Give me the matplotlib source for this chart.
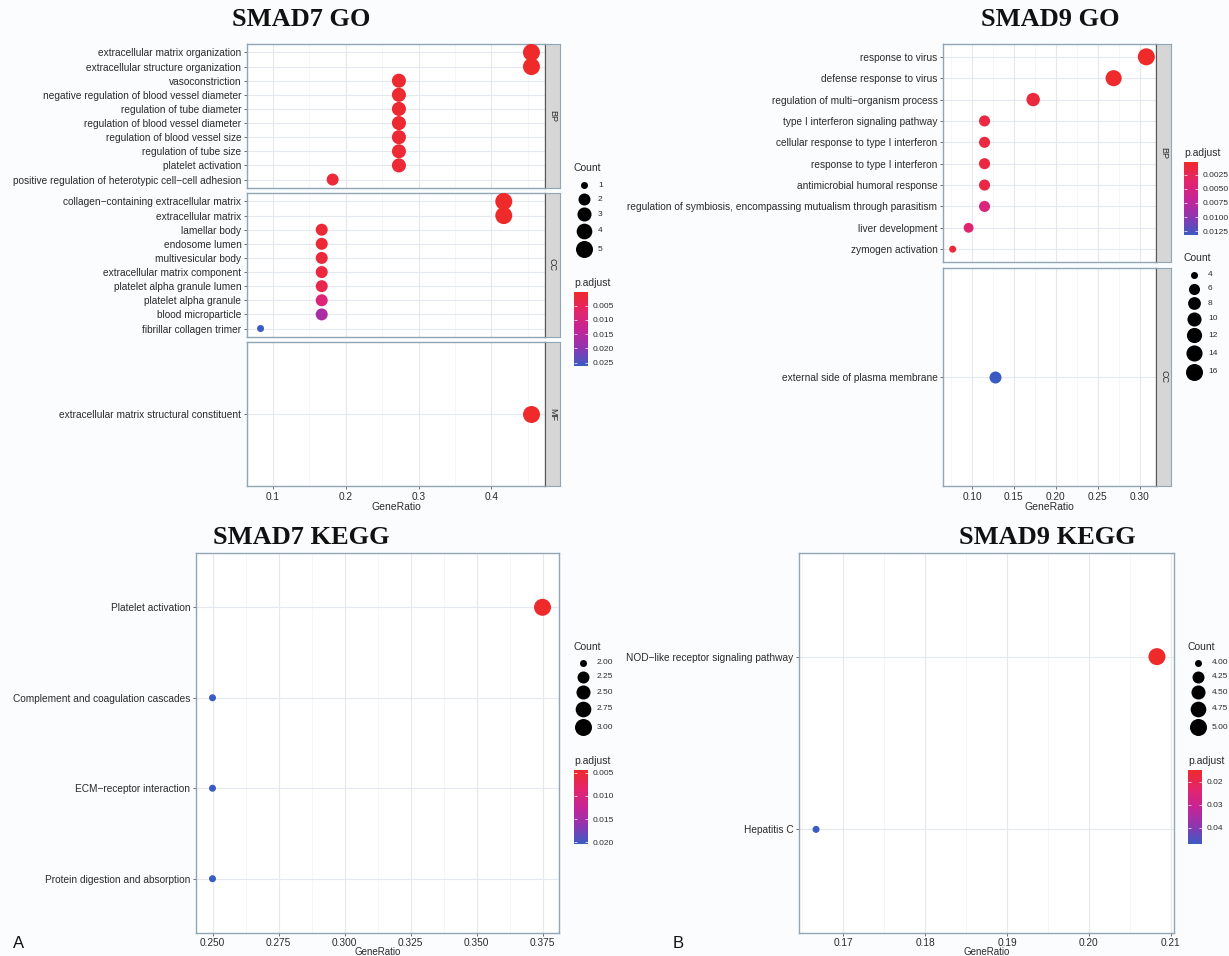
import numpy as np
import matplotlib
matplotlib.use("Agg")
import matplotlib.pyplot as plt
from matplotlib.colors import LinearSegmentedColormap, Normalize
from matplotlib.cm import ScalarMappable

W, H = 1229, 956
plt.rcParams['font.family'] = ['Liberation Sans', 'DejaVu Sans']

# ---- SMAD7 GO ----
s7_bp_terms = ["extracellular matrix organization", "extracellular structure organization",
               "vasoconstriction", "negative regulation of blood vessel diameter",
               "regulation of tube diameter", "regulation of blood vessel diameter",
               "regulation of blood vessel size", "regulation of tube size",
               "platelet activation", "positive regulation of heterotypic cell\u2212cell adhesion"]
s7_bp_ratio = [0.455, 0.455, 0.273, 0.273, 0.273, 0.273, 0.273, 0.273, 0.273, 0.182]
s7_bp_count = [5, 5, 3, 3, 3, 3, 3, 3, 3, 2]
s7_bp_padj = [0.0002, 0.0002, 0.0009, 0.0009, 0.0011, 0.0011, 0.0012, 0.0013, 0.0015, 0.0018]

s7_cc_terms = ["collagen\u2212containing extracellular matrix", "extracellular matrix",
               "lamellar body", "endosome lumen", "multivesicular body",
               "extracellular matrix component", "platelet alpha granule lumen",
               "platelet alpha granule", "blood microparticle", "fibrillar collagen trimer"]
s7_cc_ratio = [0.417, 0.417, 0.167, 0.167, 0.167, 0.167, 0.167, 0.167, 0.167, 0.083]
s7_cc_count = [5, 5, 2, 2, 2, 2, 2, 2, 2, 1]
s7_cc_padj = [0.0002, 0.0003, 0.0016, 0.0016, 0.0022, 0.0024, 0.0040, 0.0085, 0.0165, 0.0262]

s7_mf_terms = ["extracellular matrix structural constituent"]
s7_mf_ratio = [0.455]
s7_mf_count = [5]
s7_mf_padj = [0.0004]

s7_go_xticks = [0.1, 0.2, 0.3, 0.4]
s7_go_xlabels = ["0.1", "0.2", "0.3", "0.4"]
s7_go_counts_legend = [1, 2, 3, 4, 5]
s7_go_cticks = [0.005, 0.010, 0.015, 0.020, 0.025]
s7_go_clabels = ["0.005", "0.010", "0.015", "0.020", "0.025"]

# ---- SMAD9 GO ----
s9_bp_terms = ["response to virus", "defense response to virus",
               "regulation of multi\u2212organism process", "type I interferon signaling pathway",
               "cellular response to type I interferon", "response to type I interferon",
               "antimicrobial humoral response",
               "regulation of symbiosis, encompassing mutualism through parasitism",
               "liver development", "zymogen activation"]
s9_bp_ratio = [0.308, 0.269, 0.173, 0.115, 0.115, 0.115, 0.115, 0.115, 0.096, 0.077]
s9_bp_count = [16, 14, 9, 6, 6, 6, 6, 6, 5, 4]
s9_bp_padj = [0.0002, 0.0004, 0.0012, 0.0014, 0.0014, 0.0014, 0.0016, 0.0047, 0.0040, 0.0009]

s9_cc_terms = ["external side of plasma membrane"]
s9_cc_ratio = [0.127]
s9_cc_count = [7]
s9_cc_padj = [0.0132]

s9_go_xticks = [0.10, 0.15, 0.20, 0.25, 0.30]
s9_go_xlabels = ["0.10", "0.15", "0.20", "0.25", "0.30"]
s9_go_counts_legend = [4, 6, 8, 10, 12, 14, 16]
s9_go_cticks = [0.0025, 0.0050, 0.0075, 0.0100, 0.0125]
s9_go_clabels = ["0.0025", "0.0050", "0.0075", "0.0100", "0.0125"]

# ---- SMAD7 KEGG ----
s7_kegg_terms = ["Platelet activation", "Complement and coagulation cascades",
                 "ECM\u2212receptor interaction", "Protein digestion and absorption"]
s7_kegg_ratio = [0.375, 0.250, 0.250, 0.250]
s7_kegg_count = [3, 2, 2, 2]
s7_kegg_padj = [0.0044, 0.0204, 0.0204, 0.0204]
s7_kegg_xticks = [0.250, 0.275, 0.300, 0.325, 0.350, 0.375]
s7_kegg_xlabels = ["0.250", "0.275", "0.300", "0.325", "0.350", "0.375"]
s7_kegg_counts_legend = [2.00, 2.25, 2.50, 2.75, 3.00]
s7_kegg_cticks = [0.005, 0.010, 0.015, 0.020]
s7_kegg_clabels = ["0.005", "0.010", "0.015", "0.020"]

# ---- SMAD9 KEGG ----
s9_kegg_terms = ["NOD\u2212like receptor signaling pathway", "Hepatitis C"]
s9_kegg_ratio = [0.2083, 0.1667]
s9_kegg_count = [5, 4]
s9_kegg_padj = [0.0148, 0.0470]
s9_kegg_xticks = [0.17, 0.18, 0.19, 0.20, 0.21]
s9_kegg_xlabels = ["0.17", "0.18", "0.19", "0.20", "0.21"]
s9_kegg_counts_legend = [4.00, 4.25, 4.50, 4.75, 5.00]
s9_kegg_cticks = [0.02, 0.03, 0.04]
s9_kegg_clabels = ["0.02", "0.03", "0.04"]

cmap = LinearSegmentedColormap.from_list(
    "rb", ["#EE2A2A", "#E4256A", "#C62496", "#9035B0", "#3A5BC2"])
BORDER = "#8FA6B6"
TXT = "#2B2B2B"
TICK_FS = 7.3


def px_axes(fig, l, t, r, b):
    return fig.add_axes([l / W, 1 - b / H, (r - l) / W, (b - t) / H])


def dot_d(count, crange):
    # ggplot-like area scaling, diameter in pixels
    t = (np.asarray(count, float) - crange[0]) / (crange[1] - crange[0])
    return 7 + 10 * np.sqrt(np.clip(t, 0, 1))


def dot_s(count, crange):
    return (dot_d(count, crange) * 0.72) ** 2


def expand(vals):
    lo, hi = min(vals), max(vals)
    r = hi - lo
    return lo - 0.05 * r, hi + 0.05 * r


def draw_panel(ax, terms, ratio, count, padj, xlim, xticks, xlabels, crange, norm, show_x,
               xlab_pad=0, xlab_fs=7.5, xtick_pad=1.5):
    y = np.arange(len(terms))
    ax.set_facecolor("white")
    ax.scatter(ratio, y, s=dot_s(count, crange), c=padj, cmap=cmap, norm=norm,
               linewidths=0, zorder=3)
    ax.set_ylim(len(terms) - 1 + 0.6, -0.6)
    ax.set_yticks(y)
    ax.set_yticklabels(terms)
    ax.set_xlim(xlim)
    ax.set_xticks(xticks)
    ax.set_xticklabels(xlabels)
    step = xticks[1] - xticks[0]
    minors = [v for v in np.arange(xticks[0] - step / 2, xticks[-1] + step, step)
              if xlim[0] < v < xlim[1]]
    ax.set_xticks(minors, minor=True)
    ax.grid(which="major", color="#E3E9EF", lw=0.8, zorder=0)
    ax.grid(which="minor", axis="x", color="#F0F3F6", lw=0.5, zorder=0)
    ax.set_axisbelow(True)
    for sp in ax.spines.values():
        sp.set_color(BORDER)
        sp.set_linewidth(1.0)
    ax.tick_params(which="major", labelsize=TICK_FS, length=2.5, width=0.6,
                   color="#555555", labelcolor=TXT, pad=1.5)
    ax.tick_params(axis="x", which="major", pad=xtick_pad)
    ax.tick_params(which="minor", length=0)
    if show_x:
        ax.set_xlabel("GeneRatio", fontsize=xlab_fs, color=TXT, labelpad=xlab_pad)
    else:
        ax.tick_params(axis="x", which="both", labelbottom=False, length=0)


def draw_strip(fig, l, t, r, b, label):
    sa = px_axes(fig, l, t, r, b)
    sa.set_facecolor("#D6D6D6")
    sa.set_xticks([])
    sa.set_yticks([])
    for sp in sa.spines.values():
        sp.set_color(BORDER)
    sa.spines["left"].set_color("#555555")
    sa.text(0.5, 0.5, label, rotation=-90, ha="center", va="center",
            fontsize=6.5, color=TXT, transform=sa.transAxes)


def count_legend(lay, x, y_title, y0, breaks, crange, labels):
    lay.text(x, y_title, "Count", fontsize=7.5, color=TXT, ha="left", va="center")
    ds = dot_d(breaks, crange)
    ks = np.maximum(14, ds + 2)
    yc = y0
    for i, (b, d) in enumerate(zip(breaks, ds)):
        if i > 0:
            yc += (ks[i - 1] + ks[i]) / 2
        lay.scatter([x + 10], [yc], s=dot_s([b], crange), color="black", linewidths=0)
        lay.text(x + 24, yc, labels[i], fontsize=6, color=TXT, ha="left", va="center")


def color_legend(fig, lay, x, y_title, bar_top, bar_bot, norm, ticks, labels):
    lay.text(x, y_title, "p.adjust", fontsize=7.5, color=TXT, ha="left", va="center")
    cax = px_axes(fig, x, bar_top, x + 14, bar_bot)
    cb = fig.colorbar(ScalarMappable(norm=norm, cmap=cmap), cax=cax)
    cax.invert_yaxis()
    cb.outline.set_visible(False)
    cb.set_ticks(ticks)
    cb.set_ticklabels(labels)
    cax.tick_params(labelsize=6, length=2.5, width=0.5, color="white",
                    direction="in", left=True, right=True, labelcolor=TXT, pad=3)


fig = plt.figure(figsize=(W / 100, H / 100), dpi=100)
fig.patch.set_facecolor("#FBFCFD")
lay = fig.add_axes([0, 0, 1, 1])
lay.set_xlim(0, W)
lay.set_ylim(H, 0)
lay.axis("off")

title_kw = dict(fontfamily="Liberation Serif", fontweight="bold", fontsize=19,
                ha="center", va="center", color="#111111")

# ---- SMAD7 GO ----
fig.text(301 / W, 1 - 20 / H, "SMAD7 GO", **title_kw)
xl = expand(s7_bp_ratio + s7_cc_ratio + s7_mf_ratio)
cr = (min(s7_go_counts_legend), max(s7_go_counts_legend))
nm = Normalize(min(s7_bp_padj + s7_cc_padj + s7_mf_padj), max(s7_bp_padj + s7_cc_padj + s7_mf_padj))
facets = [(s7_bp_terms, s7_bp_ratio, s7_bp_count, s7_bp_padj, "BP", 44, 188),
          (s7_cc_terms, s7_cc_ratio, s7_cc_count, s7_cc_padj, "CC", 193, 337),
          (s7_mf_terms, s7_mf_ratio, s7_mf_count, s7_mf_padj, "MF", 342, 486)]
for i, (tm, ra, co, pa, lab, t, b) in enumerate(facets):
    ax = px_axes(fig, 247, t, 545, b)
    draw_panel(ax, tm, ra, co, pa, xl, s7_go_xticks, s7_go_xlabels, cr, nm, i == len(facets) - 1)
    draw_strip(fig, 545, t, 560, b, lab)
count_legend(lay, 574, 168, 185, s7_go_counts_legend, cr, [str(c) for c in s7_go_counts_legend])
color_legend(fig, lay, 574, 283, 292, 366, nm, s7_go_cticks, s7_go_clabels)

# ---- SMAD9 GO ----
fig.text(1050 / W, 1 - 20 / H, "SMAD9 GO", **title_kw)
xl = expand(s9_bp_ratio + s9_cc_ratio)
cr = (min(s9_go_counts_legend), max(s9_go_counts_legend))
nm = Normalize(min(s9_bp_padj + s9_cc_padj), max(s9_bp_padj + s9_cc_padj))
facets = [(s9_bp_terms, s9_bp_ratio, s9_bp_count, s9_bp_padj, "BP", 44, 262),
          (s9_cc_terms, s9_cc_ratio, s9_cc_count, s9_cc_padj, "CC", 268, 486)]
for i, (tm, ra, co, pa, lab, t, b) in enumerate(facets):
    ax = px_axes(fig, 943, t, 1156, b)
    draw_panel(ax, tm, ra, co, pa, xl, s9_go_xticks, s9_go_xlabels, cr, nm, i == len(facets) - 1)
    draw_strip(fig, 1156, t, 1171, b, lab)
color_legend(fig, lay, 1184, 153, 162, 235, nm, s9_go_cticks, s9_go_clabels)
count_legend(lay, 1184, 258, 275, s9_go_counts_legend, cr, [str(c) for c in s9_go_counts_legend])

# ---- SMAD7 KEGG ----
fig.text(301 / W, 1 - 537 / H, "SMAD7 KEGG", **title_kw)
xl = expand(s7_kegg_ratio)
cr = (min(s7_kegg_counts_legend), max(s7_kegg_counts_legend))
nm = Normalize(min(s7_kegg_padj), max(s7_kegg_padj))
ax = px_axes(fig, 196, 553, 559, 933)
draw_panel(ax, s7_kegg_terms, s7_kegg_ratio, s7_kegg_count, s7_kegg_padj, xl,
           s7_kegg_xticks, s7_kegg_xlabels, cr, nm, True, xlab_pad=-0.3, xlab_fs=7.0, xtick_pad=0.8)
count_legend(lay, 573, 647, 663, s7_kegg_counts_legend, cr, ["%.2f" % c for c in s7_kegg_counts_legend])
color_legend(fig, lay, 574, 761, 770, 844, nm, s7_kegg_cticks, s7_kegg_clabels)

# ---- SMAD9 KEGG ----
fig.text(1047 / W, 1 - 537 / H, "SMAD9 KEGG", **title_kw)
xl = expand(s9_kegg_ratio)
cr = (min(s9_kegg_counts_legend), max(s9_kegg_counts_legend))
nm = Normalize(min(s9_kegg_padj), max(s9_kegg_padj))
ax = px_axes(fig, 799, 553, 1174, 933)
draw_panel(ax, s9_kegg_terms, s9_kegg_ratio, s9_kegg_count, s9_kegg_padj, xl,
           s9_kegg_xticks, s9_kegg_xlabels, cr, nm, True, xlab_pad=-0.3, xlab_fs=7.0, xtick_pad=0.8)
count_legend(lay, 1188, 647, 663, s9_kegg_counts_legend, cr, ["%.2f" % c for c in s9_kegg_counts_legend])
color_legend(fig, lay, 1188, 761, 770, 844, nm, s9_kegg_cticks, s9_kegg_clabels)

fig.text(19 / W, 1 - 943 / H, "A", fontsize=12, ha="center", va="center", color="#111111")
fig.text(678 / W, 1 - 944 / H, "B", fontsize=12, ha="center", va="center", color="#111111")

fig.savefig("out.png", dpi=100, facecolor=fig.get_facecolor())
